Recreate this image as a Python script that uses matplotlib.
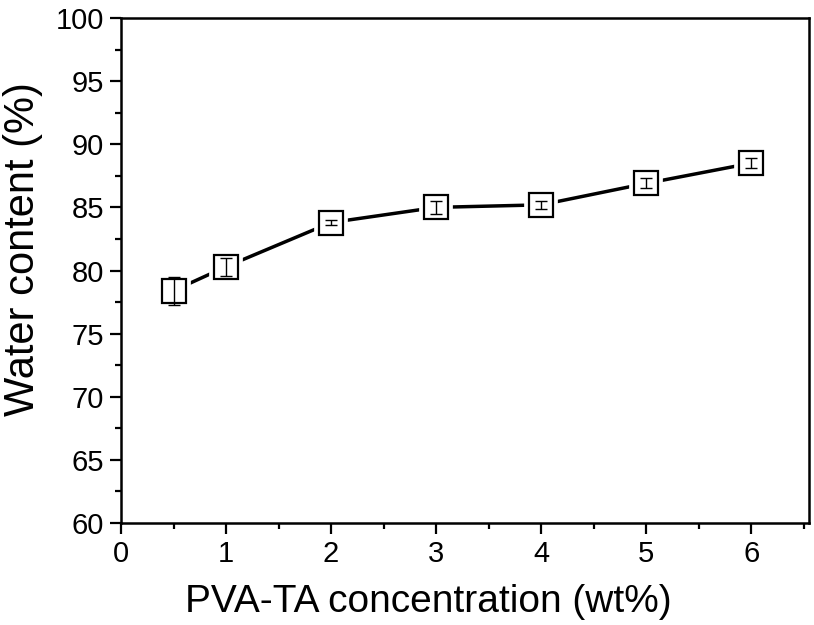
import matplotlib
matplotlib.use("Agg")
import matplotlib.pyplot as plt
from matplotlib.ticker import MultipleLocator

plt.rcParams["font.family"] = ["Liberation Sans", "DejaVu Sans"]

# data
conc = [0.5, 1, 2, 3, 4, 5, 6]
water = [78.4, 80.3, 83.8, 85.0, 85.2, 86.9, 88.5]
err = [1.1, 0.7, 0.2, 0.5, 0.3, 0.4, 0.4]

fig = plt.figure(figsize=(8.14, 6.25), dpi=100)
ax = fig.add_axes([121 / 814, 1 - 523 / 625, 688 / 814, 505 / 625])

ax.plot(conc, water, color="black", linewidth=2.5, zorder=1)
# white square behind each marker so the line stops short of the box
ax.plot(conc, water, linestyle="none", marker="s", markersize=17.5,
        markerfacecolor="white", markeredgecolor="white", markeredgewidth=7, zorder=2)
ax.plot(conc, water, linestyle="none", marker="s", markersize=17.5,
        markerfacecolor="none", markeredgecolor="black", markeredgewidth=1.6, zorder=4)
ax.errorbar(conc, water, yerr=err, fmt="none", ecolor="black",
            elinewidth=1.0, capsize=4, capthick=1.0, zorder=3)

ax.set_xlim(0, 6.55)
ax.set_ylim(60, 100)
ax.xaxis.set_major_locator(MultipleLocator(1))
ax.xaxis.set_minor_locator(MultipleLocator(0.5))
ax.yaxis.set_major_locator(MultipleLocator(5))
ax.yaxis.set_minor_locator(MultipleLocator(2.5))

for s in ax.spines.values():
    s.set_linewidth(1.8)
ax.tick_params(which="major", direction="out", length=8, width=1.6, labelsize=21, pad=4)
ax.tick_params(which="minor", direction="out", length=4.5, width=1.6)
ax.tick_params(top=False, right=False, which="both")

ax.set_xlabel("PVA-TA concentration (wt%)", fontsize=28)
ax.set_ylabel("Water content (%)", fontsize=30)
ax.xaxis.set_label_coords(0.446, -0.12)
ax.yaxis.set_label_coords(-0.113, 0.543)

fig.savefig("out.png", dpi=100)
